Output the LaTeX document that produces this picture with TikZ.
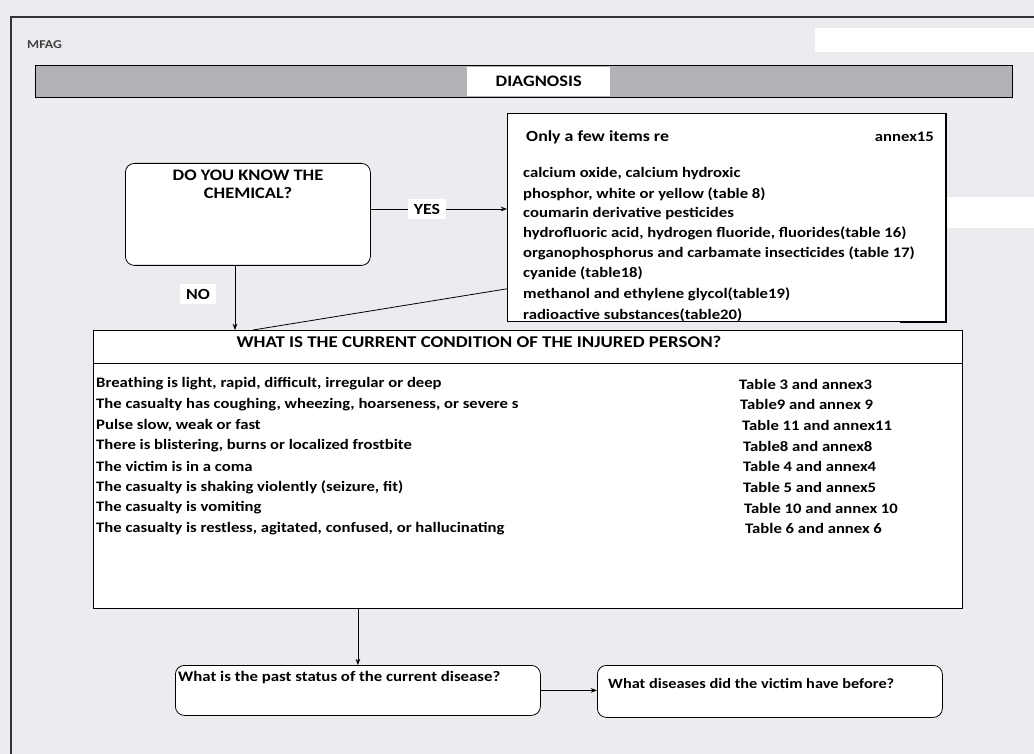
\documentclass[tikz,border=0pt]{standalone}
\usepackage{fontspec}
\setmainfont{Carlito}[FakeStretch=1.15]
\usetikzlibrary{arrows.meta,positioning}
\definecolor{paper}{HTML}{ECEBF0}
\definecolor{barfill}{HTML}{B2B2B6}
\tikzset{
  qbox/.style  = {draw, thick, fill=white, rounded corners=9pt, inner sep=0pt},
  lbox/.style  = {draw, thick, fill=white, inner sep=0pt},
  txt/.style   = {font=\bfseries\fontsize{14.5}{16}\selectfont, inner sep=0pt, anchor=west},
  head/.style  = {font=\bfseries\fontsize{16}{18}\selectfont, inner sep=0pt},
  tag/.style   = {fill=white, font=\bfseries\fontsize{15.5}{17}\selectfont, inner xsep=6pt, inner ysep=5pt},
  arr/.style   = {-{Stealth[length=2.2mm]}, thick},
}

\begin{document}
\begin{tikzpicture}[x=1pt,y=-1pt]
  \fill[paper] (0,0) rectangle (1034,754);
  \useasboundingbox (0,0) rectangle (1034,754);
  % page frame
  \draw[line width=2pt, black!80] (11,754) -- (11,17) -- (1034,17);
  \fill[white] (815,28) rectangle (1034,52);
  \fill[white] (935,197) rectangle (1034,228);
  \node[head, font=\bfseries\fontsize{12}{14}\selectfont, text=black!75, anchor=west] (mfag) at (27,45) {MFAG};
  % header bar
  \node[draw, thick, fill=barfill, minimum width=977pt, minimum height=32pt,
        anchor=north west, inner sep=0pt] (bar) at (35,65) {};
  \node[fill=white, minimum width=143pt, minimum height=29pt, anchor=north west,
        head] (diag) at (467,67) {DIAGNOSIS};
  % first question
  \node[qbox, minimum width=245pt, minimum height=102pt, anchor=north west] (know) at (125,163) {};
  \node[head, align=center, anchor=north] (knowtxt) at (248,170) {DO YOU KNOW THE\\CHEMICAL?};
  % known chemicals
  \draw[line width=3pt] (945,113) -- (945,321) -- (900,321);
  \node[lbox, minimum width=438pt, minimum height=208pt, anchor=north west] (list) at (507,113) {};
  \node[txt, font=\bfseries\fontsize{15.5}{17}\selectfont] (only) at (526,137) {Only a few items re};
  \node[txt, anchor=east] (annex) at (934,137) {annex15};
  \node[txt] (c1) at (523,174) {calcium oxide, calcium hydroxic};
  \node[txt] (c2) at (523,194) {phosphor, white or yellow (table 8)};
  \node[txt] (c3) at (523,213.5) {coumarin derivative pesticides};
  \node[txt] (c4) at (523,233.5) {hydrofluoric acid, hydrogen fluoride, fluorides(table 16)};
  \node[txt] (c5) at (523,253.5) {organophosphorus and carbamate insecticides (table 17)};
  \node[txt] (c6) at (523,273.5) {cyanide (table18)};
  \node[txt] (c7) at (523,294) {methanol and ethylene glycol(table19)};
  \node[txt] (c8) at (523,315) {radioactive substances(table20)};
  % condition of the casualty
  \node[lbox, minimum width=869pt, minimum height=278pt, anchor=north west] (cond) at (93,330) {};
  \draw[thick] (cond.west |- 0,363) -- (cond.east |- 0,363);
  \node[head, font=\bfseries\fontsize{16.4}{18}\selectfont] (condtxt) at (479,342)
    {WHAT IS THE CURRENT CONDITION OF THE INJURED PERSON?};
  \node[txt] (s1) at (96,384) {Breathing is light, rapid, difficult, irregular or deep};
  \node[txt] (s2) at (96,404.5) {The casualty has coughing, wheezing, hoarseness, or severe s};
  \node[txt] (s3) at (96,425) {Pulse slow, weak or fast};
  \node[txt] (s4) at (96,446) {There is blistering, burns or localized frostbite};
  \node[txt] (s5) at (96,466.5) {The victim is in a coma};
  \node[txt] (s6) at (96,487) {The casualty is shaking violently (seizure, fit)};
  \node[txt] (s7) at (96,508) {The casualty is vomiting};
  \node[txt] (s8) at (96,528.5) {The casualty is restless, agitated, confused, or hallucinating};
  \node[txt] (t1) at (739,384) {Table 3 and annex3};
  \node[txt] (t2) at (740,404.5) {Table9 and annex 9};
  \node[txt] (t3) at (742,425) {Table 11 and annex11};
  \node[txt] (t4) at (743,446) {Table8 and annex8};
  \node[txt] (t5) at (743,466.5) {Table 4 and annex4};
  \node[txt] (t6) at (743,487) {Table 5 and annex5};
  \node[txt] (t7) at (744,508) {Table 10 and annex 10};
  \node[txt] (t8) at (745,528.5) {Table 6 and annex 6};
  % history
  \node[qbox, minimum width=365pt, minimum height=50pt, anchor=north west] (past) at (175,665) {};
  \node[txt, font=\bfseries\fontsize{14.6}{16}\selectfont] (pasttxt) at (178,678)
    {What is the past status of the current disease?};
  \node[qbox, minimum width=345pt, minimum height=52pt, anchor=north west] (before) at (597,665) {};
  \node[txt, font=\bfseries\fontsize{14.2}{16}\selectfont] (beforetxt) at (608,684)
    {What diseases did the victim have before?};
  % connectors
  \node[tag] (yes) at (427,209) {YES};
  \draw[thick] (know.east |- yes) -- (yes.west);
  \draw[arr] (yes.east) -- (list.west |- yes);
  \node[tag, anchor=east] (no) at (216,294) {NO};
  \draw[arr] (know.south -| 235,0) -- (cond.north -| 235,0);
  \draw[thick] ([yshift=33pt]list.south west) -- ([xshift=18pt]cond.north -| 235,0);
  \draw[arr] (cond.south -| past.north) -- (past.north);
  \draw[arr] (past.east) -- (before.west |- past.east);
\end{tikzpicture}
\end{document}
